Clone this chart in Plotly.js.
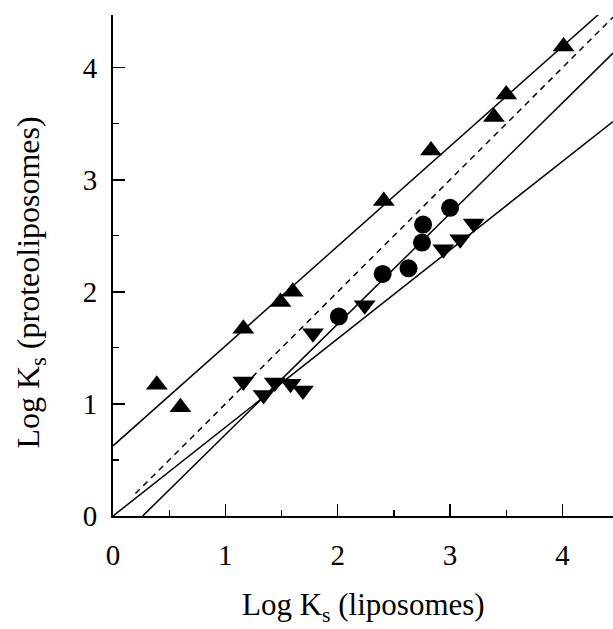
<!DOCTYPE html>
<html>
<head>
<meta charset="utf-8">
<script src="https://cdn.plot.ly/plotly-3.0.1.min.js"></script>
<style>html,body{margin:0;padding:0;background:#fff;}#chart{width:613px;height:629px;}</style>
</head>
<body>
<div id="chart"></div>
<script>
// Data
const upX   = [0.39, 0.60, 1.16, 1.49, 1.60, 2.41, 2.83, 3.39, 3.50, 4.01];
const upY   = [1.17, 0.97, 1.67, 1.91, 2.00, 2.81, 3.26, 3.56, 3.76, 4.19];
const downX = [1.16, 1.34, 1.44, 1.58, 1.69, 1.78, 2.24, 2.94, 3.09, 3.21];
const downY = [1.20, 1.08, 1.19, 1.18, 1.12, 1.63, 1.88, 2.38, 2.47, 2.61];
const circX = [2.01, 2.40, 2.63, 2.75, 2.76, 3.00];
const circY = [1.78, 2.16, 2.21, 2.44, 2.60, 2.75];
// Fitted lines (end points)
const upFitX   = [0, 4.45];
const upFitY   = [0.626, 4.59];
const circFitX = [0.264, 4.45];
const circFitY = [0, 4.13];
const downFitX = [0, 4.45];
const downFitY = [0, 3.52];
const identX   = [0.2, 4.45];
const identY   = [0.2, 4.45];
const tickVals = [0, 1, 2, 3, 4];
const tickText = ['0', '1', '2', '3', '4'];
const xTitle = 'Log K<sub>s</sub> (liposomes)';
const yTitle = 'Log K<sub>s</sub> (proteoliposomes)';

const FONT = 'Liberation Serif, Times New Roman, serif';
const lineStyle = {color: '#000', width: 1.5};

const traces = [
  {x: identX, y: identY, mode: 'lines', line: {color: '#000', width: 1.5, dash: '6px,5px'}, hoverinfo: 'skip'},
  {x: upFitX, y: upFitY, mode: 'lines', line: lineStyle, hoverinfo: 'skip'},
  {x: circFitX, y: circFitY, mode: 'lines', line: lineStyle, hoverinfo: 'skip'},
  {x: downFitX, y: downFitY, mode: 'lines', line: lineStyle, hoverinfo: 'skip'},
  {x: upX, y: upY, mode: 'markers', marker: {symbol: 'triangle-up', size: 19, color: '#000'}},
  {x: downX, y: downY, mode: 'markers', marker: {symbol: 'triangle-down', size: 19, color: '#000'}},
  {x: circX, y: circY, mode: 'markers', marker: {symbol: 'circle', size: 18, color: '#000'}}
];

const axisCommon = {
  showgrid: false, zeroline: false, showline: true, linecolor: '#000', linewidth: 2,
  ticks: 'inside', ticklen: 12, tickwidth: 1.5, tickcolor: '#000',
  tickvals: tickVals, ticktext: tickText,
  tickfont: {family: FONT, size: 29, color: '#000'},
  minor: {dtick: 0.5, ticks: 'inside', ticklen: 6, tickwidth: 1.2, tickcolor: '#000', showgrid: false},
  fixedrange: true
};

const layout = {
  width: 613, height: 629,
  margin: {l: 113, r: 0, t: 15, b: 113},
  paper_bgcolor: '#fff', plot_bgcolor: '#fff',
  showlegend: false,
  xaxis: Object.assign({}, axisCommon, {range: [0, 4.45], ticklabelstandoff: 12}),
  yaxis: Object.assign({}, axisCommon, {range: [0, 4.47], ticklabelstandoff: 8}),
  annotations: [
    {text: xTitle, xref: 'paper', yref: 'paper', x: 0.5, y: -0.2245, xanchor: 'center', yanchor: 'bottom',
     showarrow: false, borderpad: 0, font: {family: FONT, size: 31, color: '#000'}},
    {text: yTitle, xref: 'paper', yref: 'paper', x: -0.165, y: 0.465, xanchor: 'center', yanchor: 'middle',
     textangle: -90, showarrow: false, font: {family: FONT, size: 32, color: '#000'}}
  ]
};

Plotly.newPlot('chart', traces, layout, {displayModeBar: false, staticPlot: true});
</script>
</body>
</html>
